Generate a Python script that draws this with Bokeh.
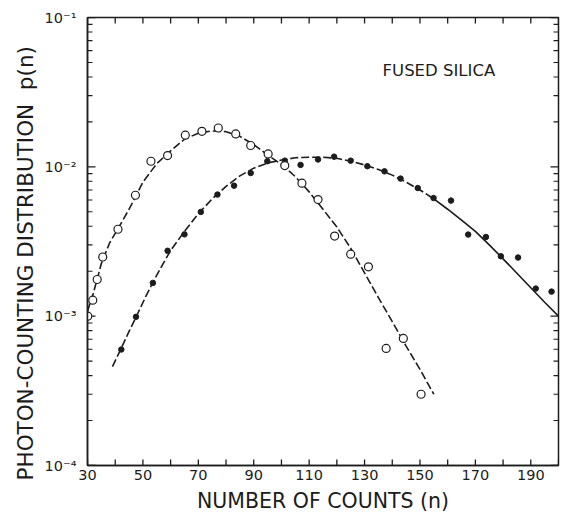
import math
from bokeh.plotting import figure
from bokeh.models import FixedTicker, Label, Range1d, Title
from bokeh.embed import file_html
from bokeh.resources import INLINE

# ---- data ----
open_n = [30.1, 31.9, 33.5, 35.5, 41.0, 47.3, 52.9, 58.9, 65.3, 71.3, 77.2, 83.5,
          88.9, 95.2, 101.2, 107.4, 113.2, 119.2, 125.0, 131.4, 137.8, 144.0, 150.4]
open_p = [1.0e-3, 1.28e-3, 1.76e-3, 2.49e-3, 3.82e-3, 6.45e-3, 1.09e-2, 1.19e-2,
          1.63e-2, 1.73e-2, 1.82e-2, 1.66e-2, 1.39e-2, 1.22e-2, 1.02e-2, 7.77e-3,
          6.04e-3, 3.44e-3, 2.6e-3, 2.14e-3, 6.08e-4, 7.1e-4, 3.0e-4]

filled_n = [42.2, 47.5, 53.6, 58.9, 65.0, 70.9, 76.9, 82.9, 88.9, 94.9, 101.2, 106.9,
            113.2, 119.0, 125.0, 131.0, 137.2, 143.0, 149.2, 154.9, 161.2, 167.4,
            173.8, 179.2, 185.4, 191.8, 197.5]
filled_p = [5.98e-4, 9.9e-4, 1.67e-3, 2.74e-3, 3.53e-3, 4.99e-3, 6.52e-3, 7.48e-3,
            9.09e-3, 1.09e-2, 1.10e-2, 1.03e-2, 1.12e-2, 1.17e-2, 1.10e-2, 1.01e-2,
            9.33e-3, 8.34e-3, 7.21e-3, 6.18e-3, 5.94e-3, 3.52e-3, 3.39e-3, 2.52e-3,
            2.47e-3, 1.53e-3, 1.46e-3]

# fitted curves
open_fit_n = [30, 32, 35, 38, 41, 45, 50, 55, 60, 65, 70, 75, 80, 85, 90, 95, 100,
              105, 110, 115, 120, 125, 130, 135, 140, 145, 150, 155]
open_fit_p = [1.08e-3, 1.40e-3, 2.25e-3, 3.1e-3, 3.85e-3, 5.2e-3, 7.9e-3, 1.05e-2,
              1.28e-2, 1.53e-2, 1.68e-2, 1.74e-2, 1.72e-2, 1.60e-2, 1.41e-2, 1.20e-2,
              1.04e-2, 8.6e-3, 6.8e-3, 5.2e-3, 3.95e-3, 2.85e-3, 1.95e-3, 1.33e-3,
              9.2e-4, 6.3e-4, 4.4e-4, 3.0e-4]

filled_fit_dash_n = [39, 42, 45, 48, 51, 54, 57, 60, 65, 70, 75, 80, 85, 90, 95, 100,
                     105, 110, 115, 120, 125, 130, 135, 140, 145, 150, 155]
filled_fit_dash_p = [4.6e-4, 6.0e-4, 7.9e-4, 1.03e-3, 1.35e-3, 1.74e-3, 2.2e-3, 2.75e-3,
                     3.7e-3, 4.85e-3, 6.1e-3, 7.4e-3, 8.7e-3, 9.8e-3, 1.06e-2, 1.11e-2,
                     1.15e-2, 1.16e-2, 1.16e-2, 1.14e-2, 1.09e-2, 1.03e-2, 9.6e-3,
                     8.8e-3, 7.9e-3, 7.0e-3, 6.1e-3]
filled_fit_solid_n = [155, 160, 165, 170, 175, 180, 185, 190, 195, 200]
filled_fit_solid_p = [6.1e-3, 5.2e-3, 4.4e-3, 3.7e-3, 3.0e-3, 2.42e-3, 1.94e-3,
                      1.55e-3, 1.24e-3, 1.0e-3]

x_tick_values = [30, 50, 70, 90, 110, 130, 150, 170, 190]
x_minor_values = [40, 60, 80, 100, 120, 140, 160, 180, 200]
y_tick_values = [1e-4, 1e-3, 1e-2, 1e-1]
y_tick_labels = ["10\u207b\u2074", "10\u207b\u00b3", "10\u207b\u00b2", "10\u207b\u00b9"]
y_minor_values = [k * d for d in [1e-4, 1e-3, 1e-2] for k in range(2, 10)]

x_label = "NUMBER OF COUNTS (n)"
y_label = "PHOTON-COUNTING DISTRIBUTION\u00a0\u00a0p(n)"
note = "FUSED SILICA"

INK = "#1c1c1c"
FONT = "DejaVu Sans"

X0, X1 = 30, 200
Y0, Y1 = 1e-4, 1e-1

p = figure(width=561, height=519, x_range=Range1d(X0, X1), y_range=Range1d(Y0, Y1),
           y_axis_type="log", output_backend="svg", toolbar_location=None,
           min_border_left=87, min_border_right=3, min_border_top=17, min_border_bottom=54)
p.grid.visible = False
p.outline_line_color = INK
p.outline_line_width = 1.5
p.background_fill_color = None
p.border_fill_color = "white"

def style(ax, ticker):
    ax.ticker = ticker
    ax.major_tick_in = 0
    ax.major_tick_out = 0
    ax.minor_tick_in = 0
    ax.minor_tick_out = 0
    ax.axis_line_color = INK
    ax.axis_line_width = 1.5
    ax.major_label_text_font = FONT
    ax.major_label_text_color = INK
    ax.major_label_text_font_size = "14.5px"

xa = p.xaxis[0]
style(xa, FixedTicker(ticks=x_tick_values, minor_ticks=x_minor_values))
xa.major_label_standoff = 4
xa.axis_label = x_label
xa.axis_label_text_font = FONT
xa.axis_label_text_font_size = "20.5px"
xa.axis_label_text_font_style = "normal"
xa.axis_label_text_color = INK
xa.axis_label_standoff = 6

ya = p.yaxis[0]
style(ya, FixedTicker(ticks=y_tick_values, minor_ticks=y_minor_values))
ya.major_label_overrides = dict(zip(y_tick_values, y_tick_labels))
ya.major_label_standoff = 11

# y axis title as a side title, starting a little below the frame like the reference
p.add_layout(Title(text=y_label, align="left", offset=-15, standoff=8,
                   text_font=FONT, text_font_size="21.5px", text_font_style="normal",
                   text_color=INK), "left")

# rotated in-plot label (same setup as the run whose tick marks rendered)
p.add_layout(Label(x=7.0, y=2.0e-3, text=y_label, angle=math.pi / 2,
                   text_font=FONT, text_font_size="21px", text_color=INK,
                   text_align="center", text_baseline="middle"))

# inward tick marks on all four sides (half of each dash is clipped by the frame)
xt_all = x_tick_values + x_minor_values
p.scatter(xt_all, [Y0] * len(xt_all), marker="dash", angle=math.pi / 2, size=12,
          line_color=INK, line_width=1.3)
p.scatter(xt_all, [Y1] * len(xt_all), marker="dash", angle=math.pi / 2, size=12,
          line_color=INK, line_width=1.3)
for xedge in (X0, X1):
    p.scatter([xedge] * len(y_tick_values), y_tick_values, marker="dash", size=16,
              line_color=INK, line_width=1.3)
    p.scatter([xedge] * len(y_minor_values), y_minor_values, marker="dash", size=10,
              line_color=INK, line_width=1.1)

# fitted curves
p.line(open_fit_n, open_fit_p, line_color=INK, line_width=1.6, line_dash="8 3")
p.line(filled_fit_dash_n, filled_fit_dash_p, line_color=INK, line_width=1.6, line_dash="8 3")
p.line(filled_fit_solid_n, filled_fit_solid_p, line_color=INK, line_width=1.6)

# data points
p.scatter(filled_n, filled_p, marker="circle", size=5.5, fill_color=INK, line_color=INK)
p.scatter(open_n, open_p, marker="circle", size=8, fill_color="white",
          line_color=INK, line_width=1.2)

p.add_layout(Label(x=136.5, y=0.0442, text=note, text_font=FONT, text_font_size="16.5px",
                   text_color=INK, text_baseline="middle", text_align="left"))

open("out.html", "w").write(file_html(p, INLINE))
